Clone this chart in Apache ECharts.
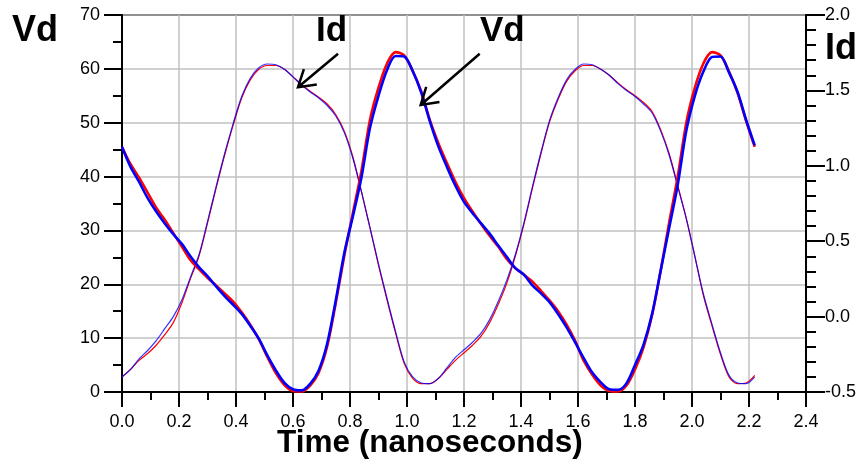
<!DOCTYPE html>
<html><head><meta charset="utf-8">
<script src="https://cdn.jsdelivr.net/npm/echarts@6/dist/echarts.min.js"></script>
<style>html,body{margin:0;padding:0;background:#fff}#c{width:860px;height:462px}</style>
</head><body><div id="c"></div>
<script>
// Time axis (nanoseconds)
const time = [0.00,0.03,0.06,0.09,0.12,0.15,0.18,0.21,0.24,0.27,
0.30,0.33,0.36,0.39,0.42,0.45,0.48,0.51,0.54,0.57,
0.60,0.63,0.66,0.69,0.72,0.75,0.78,0.81,0.84,0.87,
0.90,0.93,0.96,0.99,1.02,1.05,1.08,1.11,1.14,1.17,
1.20,1.23,1.26,1.29,1.32,1.35,1.38,1.41,1.44,1.47,
1.50,1.53,1.56,1.59,1.62,1.65,1.68,1.71,1.74,1.77,
1.80,1.83,1.86,1.89,1.92,1.95,1.98,2.01,2.04,2.07,
2.10,2.13,2.16,2.19,2.22];

// Vd (left axis)
const vdRed = [45.5,42.3,39.8,37.0,34.2,32.0,29.5,27.0,24.5,22.8,
21.2,19.8,18.3,16.8,14.8,12.5,9.8,6.5,3.5,1.3,
0.2,0.1,1.2,3.6,8.5,16.5,25.3,33.2,41.0,50.5,
56.5,61.0,63.1,62.5,59.6,55.8,50.5,46.2,42.5,39.0,
36.0,33.5,31.2,29.0,27.0,24.7,23.0,21.8,20.5,18.8,
17.0,15.0,12.5,9.5,5.8,3.2,1.2,0.2,0.1,1.2,
4.2,8.3,14.3,22.5,31.5,40.0,50.0,56.5,61.0,63.1,
62.5,59.5,55.5,50.3,45.5];
const vdBlue = [45.5,41.8,39.0,36.0,33.5,31.3,29.3,27.5,25.2,23.2,
21.5,19.6,17.8,16.2,14.5,12.3,9.9,6.8,4.0,1.7,
0.5,0.3,1.5,4.0,9.0,17.0,25.8,32.6,39.8,49.0,
55.0,59.8,62.4,62.3,59.6,55.6,50.3,45.6,41.8,38.3,
35.3,33.2,31.3,29.4,27.2,25.1,23.0,21.8,19.8,18.3,
16.7,14.5,12.0,9.2,6.3,3.6,1.8,0.5,0.4,1.6,
5.0,8.8,14.5,22.5,30.5,38.5,48.5,55.0,59.5,62.2,
62.3,59.3,55.7,50.5,45.8];

// Id (right axis)
const idRed = [-0.40,-0.35,-0.29,-0.245,-0.19,-0.12,-0.04,0.09,0.25,0.40,
0.62,0.85,1.07,1.27,1.45,1.57,1.64,1.665,1.665,1.64,
1.59,1.54,1.495,1.455,1.41,1.34,1.23,1.06,0.83,0.59,
0.34,0.11,-0.11,-0.31,-0.41,-0.445,-0.445,-0.41,-0.35,-0.29,
-0.24,-0.19,-0.13,-0.04,0.08,0.22,0.40,0.61,0.85,1.08,
1.29,1.44,1.56,1.63,1.665,1.665,1.64,1.60,1.55,1.505,
1.465,1.42,1.36,1.24,1.08,0.87,0.65,0.40,0.14,-0.06,
-0.25,-0.40,-0.445,-0.44,-0.39];
const idBlue = [-0.40,-0.35,-0.28,-0.225,-0.16,-0.08,0.0,0.11,0.26,0.41,
0.63,0.86,1.08,1.28,1.46,1.58,1.65,1.675,1.67,1.64,
1.59,1.535,1.49,1.45,1.40,1.33,1.22,1.05,0.83,0.59,
0.35,0.12,-0.10,-0.30,-0.40,-0.44,-0.445,-0.41,-0.34,-0.27,
-0.22,-0.17,-0.11,-0.02,0.10,0.24,0.41,0.62,0.86,1.09,
1.30,1.45,1.57,1.64,1.675,1.67,1.64,1.60,1.545,1.50,
1.46,1.41,1.35,1.23,1.07,0.86,0.65,0.40,0.15,-0.05,
-0.24,-0.39,-0.44,-0.445,-0.40];

// Annotation arrows (data coords on left axis): from -> to
const arrowFrom = [[0.758, 62.8], [1.255, 62.8]];
const arrowTo   = [[0.6175, 56.6], [1.048, 53.3]];

const FONT = '"Liberation Sans", Arial, sans-serif';
function pairs(ys){ return time.map((t,i)=>[t, ys[i]]); }

const chart = echarts.init(document.getElementById('c'), null, {renderer:'canvas'});
const black = '#000';
const boldText = (size)=>({fontSize:size, fontWeight:'bold', fontFamily:FONT, color:black});

chart.setOption({
  animation:false,
  backgroundColor:'#fff',
  title:[
    {text:'Vd', left:12, top:13, padding:0, textStyle:boldText(36)},
    {text:'Id', left:825, top:31, padding:0, textStyle:boldText(36)},
    {text:'Time (nanoseconds)', left:277, top:427, padding:0, textStyle:boldText(31.5)},
    {text:'Id', left:316, top:14, padding:0, textStyle:boldText(35)},
    {text:'Vd', left:480, top:14, padding:0, textStyle:boldText(35)}
  ],
  grid:{left:122, right:54, top:15, bottom:70, show:true, borderColor:black, borderWidth:2, containLabel:false, outerBoundsMode:'none'},
  xAxis:{
    type:'value', min:0, max:2.4, interval:0.2,
    axisLine:{onZero:false, lineStyle:{color:black, width:2}},
    axisTick:{length:15, lineStyle:{color:black, width:2}},
    minorTick:{show:true, splitNumber:2, length:8, lineStyle:{color:black, width:2}},
    axisLabel:{formatter:v=>v.toFixed(1), fontSize:18, color:black, fontFamily:FONT, margin:21, showMinLabel:true, showMaxLabel:true},
    splitLine:{show:true, lineStyle:{color:'#c0c0c0', width:1.5}}
  },
  yAxis:[
    {type:'value', position:'left', min:0, max:70, interval:10,
     axisLine:{show:true, onZero:false, lineStyle:{color:black, width:2}},
     axisTick:{show:true, length:18, lineStyle:{color:black, width:2}},
     minorTick:{show:true, splitNumber:2, length:9, lineStyle:{color:black, width:2}},
     axisLabel:{fontSize:18, color:black, fontFamily:FONT, margin:22, showMinLabel:true, showMaxLabel:true},
     splitLine:{show:true, lineStyle:{color:'#c0c0c0', width:1.5}}},
    {type:'value', position:'right', min:-0.5, max:2.0, interval:0.5,
     axisLine:{show:true, onZero:false, lineStyle:{color:black, width:2}},
     axisTick:{show:true, length:19, lineStyle:{color:black, width:2}},
     minorTick:{show:true, splitNumber:5, length:10, lineStyle:{color:black, width:2}},
     axisLabel:{formatter:v=>v.toFixed(1), fontSize:18, color:black, fontFamily:FONT, margin:19, showMinLabel:true, showMaxLabel:true},
     splitLine:{show:false}}
  ],
  series:[
    {name:'Id red', type:'line', yAxisIndex:1, data:pairs(idRed), symbol:'none', smooth:0.3, lineStyle:{color:'#ff0000', width:1.2}},
    {name:'Id blue', type:'line', yAxisIndex:1, data:pairs(idBlue), symbol:'none', smooth:0.3, lineStyle:{color:'#0000ff', width:1.2, opacity:0.8}},
    {name:'Vd red', type:'line', yAxisIndex:0, data:pairs(vdRed), symbol:'none', smooth:0.3, lineStyle:{color:'#ff0000', width:2.6}},
    {name:'Vd blue', type:'line', yAxisIndex:0, data:pairs(vdBlue), symbol:'none', smooth:0.3, lineStyle:{color:'#0000ff', width:2.6}}
  ]
});

// Arrows drawn from data coordinates
const gfx = [];
for (let k=0;k<arrowFrom.length;k++){
  const p0 = chart.convertToPixel({xAxisIndex:0, yAxisIndex:0}, arrowFrom[k]);
  const p1 = chart.convertToPixel({xAxisIndex:0, yAxisIndex:0}, arrowTo[k]);
  const ang = Math.atan2(p0[1]-p1[1], p0[0]-p1[0]);
  const L = 19, spread = 0.56;
  const b1 = [p1[0]+L*Math.cos(ang-spread), p1[1]+L*Math.sin(ang-spread)];
  const b2 = [p1[0]+L*Math.cos(ang+spread), p1[1]+L*Math.sin(ang+spread)];
  gfx.push({type:'line', z:100, shape:{x1:p0[0],y1:p0[1],x2:p1[0],y2:p1[1]}, style:{stroke:black, lineWidth:2.5}});
  gfx.push({type:'polyline', z:100, shape:{points:[b1,p1,b2]}, style:{stroke:black, lineWidth:2.5, fill:null}});
}
chart.setOption({graphic:gfx});
</script></body></html>
